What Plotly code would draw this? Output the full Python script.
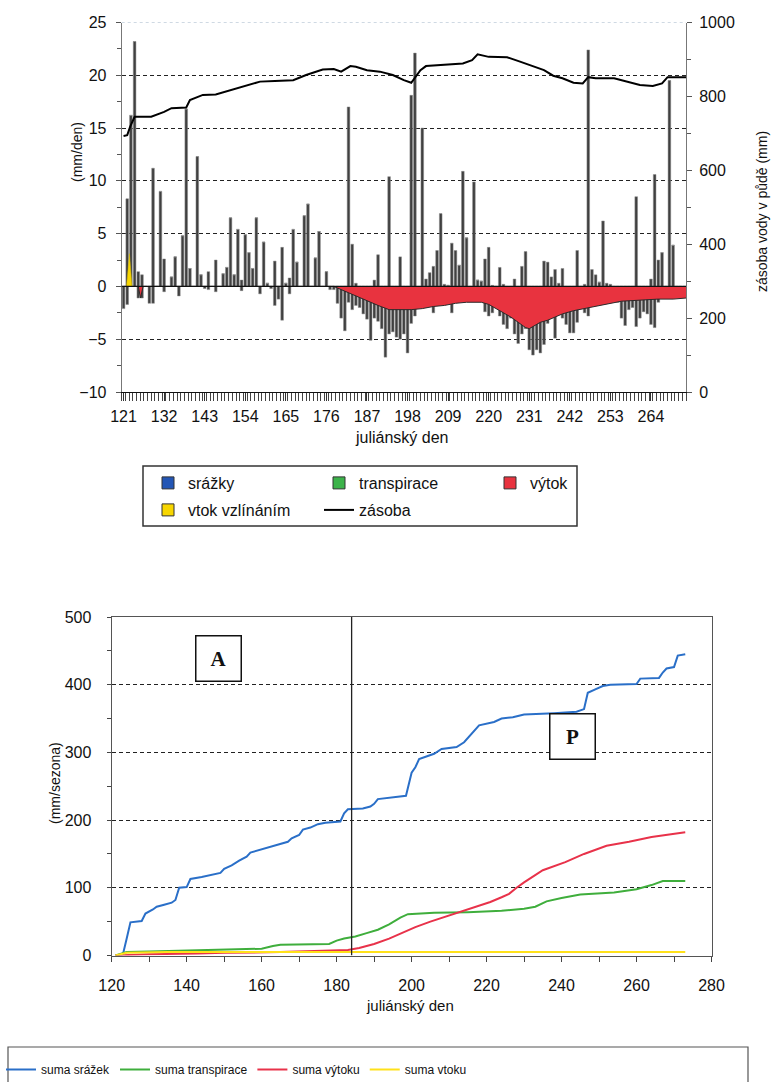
import plotly.graph_objects as go

# ---------------- top chart data (daily, julian days 121..273) ----------------
days = list(range(121, 274))
srazky = [
    0, 8.3, 16.2, 23.2, 1.4, 1.1, 0, 0, 11.2, 0,
    9.0, 2.6, 0, 0.9, 2.8, 0, 4.8, 16.8, 1.7, 0,
    12.3, 1.1, 0, 1.4, 0, 2.5, 0, 1.2, 1.8, 6.5,
    1.1, 5.4, 0.6, 4.9, 3.2, 1.7, 6.5, 0, 4.2, 0.3,
    0, 2.4, 0, 3.7, 0.3, 0.8, 5.4, 2.3, 0, 6.7,
    7.8, 0, 2.7, 5.2, 0, 1.4, 0, 0, 0, 0,
    0, 17.0, 4.0, 0.3, 0, 0, 0, 0, 0.6, 3.0,
    0, 0, 10.4, 0, 0, 2.8, 0, 0, 18.1, 22.1,
    0, 15.0, 0.7, 1.3, 1.9, 3.4, 6.9, 0.2, 0.1, 4.1,
    3.4, 2.0, 10.9, 4.6, 0, 9.9, 0.6, 0.5, 2.6, 3.7,
    0.1, 0, 1.8, 0.2, 0, 0, 0.7, 0, 1.9, 3.3,
    0, 0, 0, 0, 2.4, 2.3, 0.9, 1.6, 0.3, 1.7,
    0, 0, 0, 3.4, 0, 0.2, 22.4, 1.6, 1.1, 0.4,
    6.2, 0.3, 0.2, 0, 0, 0, 0, 0, 0, 8.5,
    0, 0, 0, 0.7, 10.6, 2.5, 3.2, 0, 19.5, 3.9,
    0, 0, 0,
]
transpirace = [
    -2.1, -1.7, 0, 0, -1.1, -1.1, 0, -1.6, -1.6, 0,
    0, -0.5, 0, 0, 0, -0.9, 0, 0, 0, 0,
    0, 0, -0.2, -0.3, 0, -0.5, 0, 0, 0, 0,
    0, 0, -0.4, 0, 0, 0, 0, -0.7, 0, 0,
    -0.2, -1.8, -1.2, -3.2, 0, -0.7, 0, 0, 0, 0,
    0, 0, 0, 0, 0, 0, -0.3, -0.3, -1.6, -3.0,
    -4.2, -1.5, -2.2, -1.8, -2.0, -2.6, -3.1, -5.1, -3.0, -3.3,
    -4.0, -6.7, -4.5, -4.3, -4.8, -5.0, -4.5, -6.3, -3.5, -2.8,
    -1.5, -2.0, -2.0, -1.0, -2.5, -1.0, -0.5, -0.5, 0, -2.5,
    -0.5, 0, -0.5, 0, 0, -0.3, 0, 0, -2.4, -2.8,
    -2.5, 0, -2.8, -3.6, -4.0, -3.0, -4.5, -5.4, -4.5, -4.0,
    -6.0, -6.5, -6.0, -6.3, -5.5, -3.5, -2.8, -4.9, -2.5, -3.0,
    -3.6, -4.4, -4.4, -3.4, -2.0, -2.5, -2.8, -1.2, -0.5, 0,
    -1.7, -1.5, -1.0, -0.3, -1.5, -3.0, -3.7, -2.2, -2.0, -3.8,
    -3.0, -2.4, -2.6, -3.6, -3.9, -1.5, 0, 0, 0, 0,
    0, 0, 0,
]
vytok_days = [121, 125, 125.6, 126.3, 178, 180, 182, 185, 188, 190, 193, 196, 199,
              202, 205, 208, 211, 214, 218, 220, 222, 224, 226, 228, 230, 231, 232,
              234, 236, 238, 240, 243, 246, 248, 252, 256, 261, 266, 270, 273.5]
vytok = [0, 0, -1.1, 0, 0, -0.3, -0.6, -1.1, -1.5, -1.8, -2.2, -2.2, -2.2,
         -2.1, -1.9, -1.8, -1.6, -1.5, -1.5, -1.7, -2.1, -2.5, -2.9, -3.4, -3.9, -4.0, -3.8,
         -3.4, -3.2, -2.9, -2.6, -2.3, -2.1, -1.9, -1.65, -1.4, -1.3, -1.2, -1.2, -1.1]
vtok_days = [121.8, 122.6, 123.3]
vtok = [0, 3.1, 0]
zasoba_days = [121, 122, 122.8, 124, 128.5, 132, 134, 138, 139, 142.5,
               146, 150, 154, 158, 162, 167, 170.5, 175, 178, 180,
               182.5, 184, 187, 190.5, 194, 197, 199, 200.5, 201.5, 203,
               207.5, 213, 215.5, 217, 220, 225, 228.5, 232, 235, 237.5,
               240, 243, 245.5, 247, 249, 254, 257.5, 261, 264.5, 267,
               268.5, 273.5]
zasoba = [693, 695, 718, 745, 745, 758, 768, 770, 790, 804,
          805, 817, 828, 840, 842, 844, 858, 873, 874, 867,
          882, 880, 871, 867, 858, 844, 837, 858, 871, 882,
          885, 889, 898, 914, 907, 906, 894, 882, 871, 856,
          849, 837, 835, 852, 849, 849, 840, 831, 828, 835,
          852, 852]
top_ticks = [121, 132, 143, 154, 165, 176, 187, 198, 209, 220, 231, 242, 253, 264]

# ---------------- bottom chart data (cumulative sums) ----------------
srazek_days = [121, 123, 124, 125, 128, 129, 131, 132, 134, 136, 137, 138, 140, 141, 144,
               147, 149, 150, 152, 154, 156, 157, 159, 161, 163, 165, 167, 168, 170, 171,
               173, 175, 177, 181, 182, 183, 187, 189, 190, 191, 196, 198.5, 200, 201, 202,
               206, 208, 212, 214, 216, 218, 222, 224, 227, 230, 238, 244, 246, 247, 249,
               251, 253, 260, 261, 266, 267, 268, 270, 271, 273]
suma_srazek = [0, 2, 25, 49, 51, 62, 68, 72, 75, 78, 82, 100, 101, 113, 116,
               120, 122, 128, 133, 140, 146, 152, 155, 158, 162, 165, 168, 173, 178, 186,
               189, 194, 196, 198, 210, 216, 217, 220, 224, 231, 234, 236, 270, 278, 290,
               298, 305, 308, 315, 328, 340, 345, 350, 352, 356, 358, 360, 364, 388, 393,
               398, 400, 401, 409, 410, 418, 424, 426, 443, 445]
transp_days = [121, 122, 124, 130, 137, 140, 148, 160, 163, 165, 178, 180, 182, 185, 188, 191,
               194, 197, 199, 206, 215, 224, 230, 233, 236, 240, 245, 254, 260, 264, 267, 273]
suma_transpirace = [0, 2, 5, 6, 7, 8, 9, 10, 14, 16, 17, 22, 25, 28, 33, 38,
                    46, 56, 61, 63, 64, 66, 69, 72, 80, 85, 90, 93, 98, 104, 110, 110]
vytoku_days = [121, 124, 130, 143, 150, 165, 178, 183, 186, 190, 194, 197, 201, 205,
               210, 216, 221, 224, 226, 228, 230, 235, 241, 246, 252, 258, 264, 273]
suma_vytoku = [0, 1, 2, 3, 4, 5, 7, 8, 11, 17, 25, 32, 42, 50,
               59, 69, 79, 86, 91, 100, 108, 126, 138, 150, 162, 168, 175, 182]
vtoku_days = [121, 123, 124, 135, 273]
suma_vtoku = [0, 3, 4, 5, 5]
season_split = 184

W, H = 776, 1082
def px(x):
    return x / W
def py(y):
    return 1 - y / H

FONT = "Liberation Sans, Arial, sans-serif"
BAR = "#404040"

fig = go.Figure()

# daily bars (grey in print)
fig.add_trace(go.Bar(x=days, y=srazky, width=0.72, marker=dict(color=BAR, line=dict(color="#8a8a8a", width=0.5)),
                     showlegend=False, xaxis="x", yaxis="y", hoverinfo="x+y"))
fig.add_trace(go.Bar(x=days, y=transpirace, width=0.72, marker=dict(color=BAR, line=dict(color="#8a8a8a", width=0.5)),
                     showlegend=False, xaxis="x", yaxis="y", hoverinfo="x+y"))
# outflow area
fig.add_trace(go.Scatter(x=vytok_days, y=vytok, mode="lines", fill="tozeroy", fillcolor="#e8333f",
                         line=dict(color="#2a2a2a", width=1), showlegend=False, xaxis="x", yaxis="y"))
# capillary inflow
fig.add_trace(go.Scatter(x=vtok_days, y=vtok, mode="lines", fill="tozeroy", fillcolor="#f7d600",
                         line=dict(color="#d4b800", width=0.5), showlegend=False, xaxis="x", yaxis="y"))

# legend entries of the top chart (row 1 in legend, row 2 in legend3)
fig.add_trace(go.Bar(x=[None], y=[None], name="srážky", marker=dict(color="#2356b5", line=dict(color="#333", width=1)),
                     xaxis="x", yaxis="y", legend="legend"))
fig.add_trace(go.Bar(x=[None], y=[None], name="transpirace", marker=dict(color="#3cb34a", line=dict(color="#333", width=1)),
                     xaxis="x", yaxis="y", legend="legend"))
fig.add_trace(go.Bar(x=[None], y=[None], name="výtok", marker=dict(color="#e8333f", line=dict(color="#333", width=1)),
                     xaxis="x", yaxis="y", legend="legend"))
fig.add_trace(go.Bar(x=[None], y=[None], name="vtok vzlínáním", marker=dict(color="#f7d600", line=dict(color="#333", width=1)),
                     xaxis="x", yaxis="y", legend="legend3"))
# soil water storage
fig.add_trace(go.Scatter(x=zasoba_days, y=zasoba, mode="lines", name="zásoba", line=dict(color="black", width=2),
                         xaxis="x", yaxis="y2", legend="legend3"))

# bottom chart
fig.add_trace(go.Scatter(x=srazek_days, y=suma_srazek, mode="lines", name="suma srážek",
                         line=dict(color="#2a6fc8", width=2), xaxis="x2", yaxis="y3", legend="legend2"))
fig.add_trace(go.Scatter(x=transp_days, y=suma_transpirace, mode="lines", name="suma transpirace",
                         line=dict(color="#3fae3c", width=2), xaxis="x2", yaxis="y3", legend="legend2"))
fig.add_trace(go.Scatter(x=vytoku_days, y=suma_vytoku, mode="lines", name="suma výtoku",
                         line=dict(color="#e8324a", width=2), xaxis="x2", yaxis="y3", legend="legend2"))
fig.add_trace(go.Scatter(x=vtoku_days, y=suma_vtoku, mode="lines", name="suma vtoku",
                         line=dict(color="#ffe11a", width=2), xaxis="x2", yaxis="y3", legend="legend2"))

grid_dash = "4px,3px"
axis_font = dict(family=FONT, size=16, color="#111")
top_legend_common = dict(xanchor="left", yanchor="top", orientation="h",
                         entrywidth=126, entrywidthmode="pixels", traceorder="normal",
                         font=dict(family=FONT, size=16, color="#111"), bgcolor="rgba(0,0,0,0)",
                         borderwidth=0, itemclick=False, itemdoubleclick=False)

fig.update_layout(
    width=W, height=H, template="none", autosize=False,
    paper_bgcolor="white", plot_bgcolor="rgba(0,0,0,0)",
    margin=dict(l=0, r=0, t=0, b=0, autoexpand=False),
    font=dict(family=FONT, size=16, color="#111"),
    barmode="relative", bargap=0.25,
    xaxis=dict(domain=[px(121.7), px(686)], anchor="y", range=[120.5, 273.5], automargin=False,
               tickmode="array", tickvals=top_ticks, ticks="outside", ticklen=8, tickcolor="#333",
               tickfont=axis_font, showline=True, linecolor="#111", linewidth=1.2,
               showgrid=False, zeroline=False, ticklabelstandoff=2,
               minor=dict(tickmode="linear", tick0=120.5, dtick=1, ticks="outside", ticklen=8,
                          tickcolor="#444", tickwidth=1, showgrid=False)),
    yaxis=dict(domain=[py(392), py(22.5)], anchor="x", range=[-10, 25], automargin=False,
               tickmode="linear", tick0=0, dtick=5, ticks="outside", ticklen=5, tickcolor="#555",
               tickfont=axis_font, showline=True, linecolor="#777", linewidth=1,
               showgrid=True, gridcolor="#222", gridwidth=1, griddash=grid_dash, zeroline=False,
               ticklabelstandoff=6,
               minor=dict(tickmode="linear", tick0=2.5, dtick=5, ticks="outside", ticklen=4,
                          tickcolor="#555", showgrid=False)),
    yaxis2=dict(overlaying="y", side="right", anchor="x", range=[0, 1000], automargin=False,
                tickmode="linear", tick0=0, dtick=200, ticks="outside", ticklen=5, tickcolor="#555",
                tickfont=axis_font, showline=True, linecolor="#777", linewidth=1,
                showgrid=False, zeroline=False, ticklabelstandoff=4,
                minor=dict(tickmode="linear", tick0=100, dtick=200, ticks="outside", ticklen=4,
                           tickcolor="#555", showgrid=False)),
    xaxis2=dict(domain=[px(111.7), px(711.5)], anchor="y3", range=[120, 280], automargin=False,
                tickmode="linear", tick0=120, dtick=20, ticks="outside", ticklen=5, tickcolor="#444",
                tickfont=axis_font, showline=True, linecolor="#555", linewidth=1.2, mirror=True,
                showgrid=False, zeroline=False, ticklabelstandoff=10,
                minor=dict(tickmode="linear", tick0=130, dtick=20, ticks="outside", ticklen=5,
                           tickcolor="#444", showgrid=False)),
    yaxis3=dict(domain=[py(955.5), py(617)], anchor="x2", range=[0, 500], automargin=False,
                tickmode="linear", tick0=0, dtick=100, ticks="outside", ticklen=4, tickcolor="#444",
                tickfont=axis_font, showline=True, linecolor="#555", linewidth=1.2, mirror=True,
                showgrid=True, gridcolor="#222", gridwidth=1, griddash=grid_dash, zeroline=False,
                ticklabelstandoff=12,
                minor=dict(tickmode="linear", tick0=50, dtick=100, ticks="outside", ticklen=4,
                           tickcolor="#444", showgrid=False)),
    legend=dict(x=px(148), y=py(466), **top_legend_common),
    legend3=dict(x=px(148), y=py(493), **top_legend_common),
    legend2=dict(x=px(1), y=py(1055), xanchor="left", yanchor="top", orientation="h",
                 traceorder="normal",
                 font=dict(family=FONT, size=12, color="#111"), bgcolor="rgba(0,0,0,0)", borderwidth=0,
                 itemclick=False, itemdoubleclick=False),
    shapes=[
        # zero line of the top chart above the red area
        dict(type="line", xref="x domain", yref="y", x0=0, x1=1, y0=0, y1=0,
             line=dict(color="#111", width=1.2), layer="above"),
        # faint top border of the top chart
        dict(type="line", xref="x domain", yref="y", x0=0, x1=1, y0=25, y1=25,
             line=dict(color="#9fb4c8", width=1, dash="dot"), layer="below"),
        # season divider in the bottom chart
        dict(type="line", xref="x2", yref="y3", x0=season_split, x1=season_split, y0=0, y1=500,
             line=dict(color="#222", width=1.3), layer="above"),
        # legend frames
        dict(type="rect", xref="paper", yref="paper", x0=px(143), x1=px(577), y0=py(526), y1=py(466),
             line=dict(color="#333", width=1.5), fillcolor="rgba(0,0,0,0)"),
        dict(type="rect", xref="paper", yref="paper", x0=px(8), x1=px(748), y0=py(1095), y1=py(1047),
             line=dict(color="#555", width=1.2), fillcolor="rgba(0,0,0,0)"),
    ],
    annotations=[
        dict(text="(mm/den)", xref="paper", yref="paper", x=px(77), y=py(152), textangle=-90,
             showarrow=False, font=dict(family=FONT, size=14, color="#111"), xanchor="center", yanchor="middle"),
        dict(text="zásoba vody v půdě (mm)", xref="paper", yref="paper", x=px(762), y=py(212), textangle=-90,
             showarrow=False, font=dict(family=FONT, size=14, color="#111"), xanchor="center", yanchor="middle"),
        dict(text="juliánský den", xref="paper", yref="paper", x=px(402), y=py(437),
             showarrow=False, font=dict(family=FONT, size=16, color="#111"), xanchor="center", yanchor="middle"),
        dict(text="(mm/sezona)", xref="paper", yref="paper", x=px(55), y=py(783), textangle=-90,
             showarrow=False, font=dict(family=FONT, size=14, color="#111"), xanchor="center", yanchor="middle"),
        dict(text="juliánský den", xref="paper", yref="paper", x=px(410), y=py(1005),
             showarrow=False, font=dict(family=FONT, size=15, color="#111"), xanchor="center", yanchor="middle"),
        dict(text="<b>A</b>", xref="x2", yref="y3", x=148.5, y=439, showarrow=False,
             font=dict(family="Liberation Serif, Times New Roman, serif", size=21, color="#111"),
             width=42, height=42, borderpad=1, bordercolor="#111", borderwidth=1.5, bgcolor="white"),
        dict(text="<b>P</b>", xref="x2", yref="y3", x=243, y=324, showarrow=False,
             font=dict(family="Liberation Serif, Times New Roman, serif", size=21, color="#111"),
             width=42, height=42, borderpad=1, bordercolor="#111", borderwidth=1.5, bgcolor="white"),
    ],
)

fig.write_html("out.html", config={"displayModeBar": False},
               post_script="document.body.style.margin='0px';")
